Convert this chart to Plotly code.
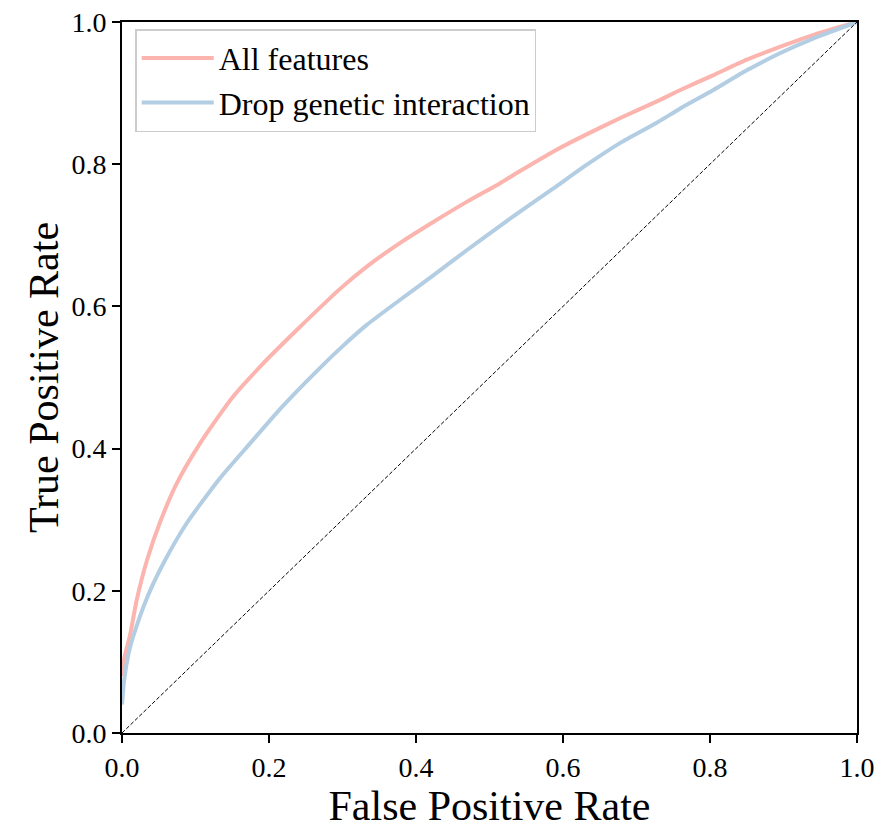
import plotly.graph_objects as go

# ROC curve data
all_fpr = [0.0, 0.003, 0.011, 0.020, 0.034, 0.052, 0.074, 0.106, 0.151, 0.197, 0.242, 0.297,
           0.333, 0.378, 0.424, 0.469, 0.514, 0.541, 0.587, 0.632, 0.678, 0.727, 0.759, 0.804,
           0.850, 0.895, 0.941, 1.0]
all_tpr = [0.08, 0.105, 0.138, 0.187, 0.243, 0.297, 0.350, 0.407, 0.473, 0.525, 0.571, 0.625,
           0.656, 0.689, 0.719, 0.747, 0.773, 0.790, 0.818, 0.842, 0.865, 0.888, 0.904, 0.925,
           0.947, 0.965, 0.982, 1.0]

drop_fpr = [0.0, 0.003, 0.009, 0.015, 0.034, 0.056, 0.088, 0.133, 0.174, 0.219, 0.265, 0.297,
            0.333, 0.378, 0.424, 0.469, 0.514, 0.541, 0.587, 0.632, 0.678, 0.727, 0.759, 0.804,
            0.850, 0.895, 0.941, 1.0]
drop_tpr = [0.04, 0.075, 0.112, 0.135, 0.190, 0.238, 0.295, 0.358, 0.407, 0.460, 0.509, 0.541,
            0.574, 0.609, 0.644, 0.679, 0.713, 0.733, 0.766, 0.799, 0.830, 0.858, 0.878, 0.904,
            0.932, 0.956, 0.977, 1.0]

chance = [0.0, 1.0]

series_names = ["All features", "Drop genetic interaction"]
series_colors = ["#fbb4ae", "#b3cde3"]

tick_vals = [0.0, 0.2, 0.4, 0.6, 0.8, 1.0]
tick_text = ["0.0", "0.2", "0.4", "0.6", "0.8", "1.0"]

FONT = "Liberation Serif, Times New Roman, serif"

fig = go.Figure()
fig.add_trace(go.Scatter(x=all_fpr, y=all_tpr, mode="lines", name=series_names[0],
                         line=dict(color=series_colors[0], width=4, shape="spline", smoothing=0.6),
                         legendgroup="a"))
fig.add_trace(go.Scatter(x=drop_fpr, y=drop_tpr, mode="lines", name=series_names[1],
                         line=dict(color=series_colors[1], width=4, shape="spline", smoothing=0.6),
                         legendgroup="b"))
fig.add_trace(go.Scatter(x=chance, y=chance, mode="lines", showlegend=False,
                         line=dict(color="black", width=1, dash="4px,2px")))

axis_common = dict(
    range=[0, 1], tickvals=tick_vals, ticktext=tick_text, automargin=False,
    showgrid=False, zeroline=False, showline=True, linecolor="black", linewidth=2,
    mirror=True, ticks="outside", ticklen=8, tickwidth=1.5, tickcolor="black",
    tickfont=dict(family=FONT, size=28, color="black"), ticklabeloverflow="allow",
)

# page body has an 8px margin, so the figure is sized/offset to match the 888x832 frame
fig.update_layout(
    width=880, height=824,
    margin=dict(l=114, r=31, t=14, b=99),
    paper_bgcolor="white", plot_bgcolor="white",
    font=dict(family=FONT, color="black"),
    xaxis=dict(**axis_common, title=dict(text="False Positive Rate",
                                         font=dict(family=FONT, size=42), standoff=8)),
    yaxis=dict(**axis_common, title=dict(text="True Positive Rate",
                                         font=dict(family=FONT, size=42), standoff=0)),
    legend=dict(x=0.018, y=0.99, xanchor="left", yanchor="top",
                bgcolor="rgba(255,255,255,0.8)", bordercolor="#cccccc", borderwidth=1.5,
                font=dict(family=FONT, size=32, color="black"),
                traceorder="grouped", tracegroupgap=0, itemwidth=72),
    showlegend=True,
)

fig.write_html("out.html")
